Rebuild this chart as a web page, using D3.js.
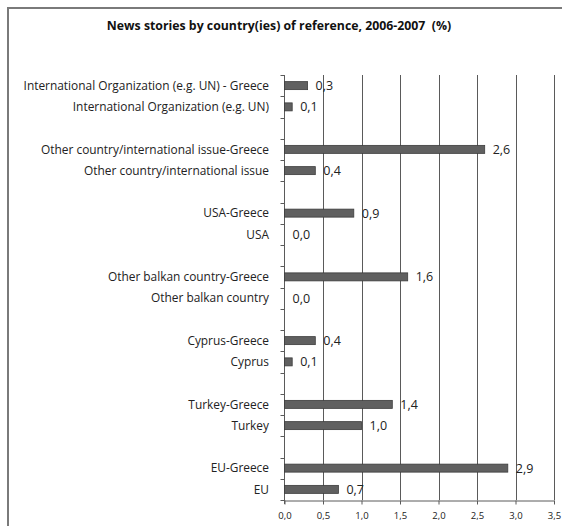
<!DOCTYPE html>
<html>
<head>
<meta charset="utf-8">
<script src="https://cdn.jsdelivr.net/npm/d3@7/dist/d3.min.js"></script>
<style>
  html, body { margin: 0; padding: 0; background: #fff; }
  svg { display: block; }
</style>
</head>
<body>
<svg id="chart" width="562" height="526"></svg>
<script>
// Categories from top to bottom; each pair is followed by an empty row
const categories = [
  "International Organization (e.g. UN) - Greece",
  "International Organization (e.g. UN)",
  "Other country/international issue-Greece",
  "Other country/international issue",
  "USA-Greece",
  "USA",
  "Other balkan country-Greece",
  "Other balkan country",
  "Cyprus-Greece",
  "Cyprus",
  "Turkey-Greece",
  "Turkey",
  "EU-Greece",
  "EU"
];
const values = [0.3, 0.1, 2.6, 0.4, 0.9, 0.0, 1.6, 0.0, 0.4, 0.1, 1.4, 1.0, 2.9, 0.7];
const xTicks = [0, 0.5, 1, 1.5, 2, 2.5, 3, 3.5];
const title = "News stories by country(ies) of reference, 2006-2007  (%)";

const locale = d3.formatLocale({ decimal: ",", thousands: ".", grouping: [3], currency: ["", "€"] });
const fmt = locale.format(".1f");

const svg = d3.select("#chart");

// Outer frame (continues past the right and bottom edges)
svg.append("rect")
  .attr("x", 8).attr("y", 8)
  .attr("width", 600).attr("height", 600)
  .attr("fill", "none")
  .attr("stroke", "#7a7a7a")
  .attr("stroke-width", 2);

svg.append("text")
  .attr("x", 279).attr("y", 30)
  .attr("text-anchor", "middle")
  .attr("font-family", "'Open Sans', sans-serif")
  .attr("font-weight", "bold")
  .attr("font-size", 12.3)
  .attr("fill", "#111")
  .attr("xml:space", "preserve")
  .style("white-space", "pre")
  .text(title);

const plot = { left: 284.5, right: 554, top: 75, bottom: 500 };

// Row slots: two categories, then one empty slot
const slotOf = i => i + Math.floor(i / 2);
const nSlots = slotOf(categories.length - 1) + 1;
const slots = d3.range(nSlots);

const x = d3.scaleLinear().domain([0, 3.5]).range([plot.left, plot.right]);
const y = d3.scaleBand().domain(slots).range([plot.top, plot.bottom]).paddingInner(0).paddingOuter(0);

// Vertical gridlines
svg.append("g").selectAll("line")
  .data(xTicks.filter(t => t > 0))
  .join("line")
  .attr("x1", d => Math.round(x(d)) + 0.5).attr("x2", d => Math.round(x(d)) + 0.5)
  .attr("y1", plot.top).attr("y2", plot.bottom)
  .attr("stroke", "#5a5a5a").attr("stroke-width", 1);

// Bottom axis
const xAxis = d3.axisBottom(x).tickValues(xTicks).tickFormat(fmt).tickSizeInner(4).tickSizeOuter(0).tickPadding(8);
const xg = svg.append("g").attr("transform", `translate(0,${plot.bottom + 0.5})`).call(xAxis);
xg.select(".domain").attr("stroke", "#5a5a5a");
xg.selectAll(".tick line").attr("stroke", "#5a5a5a");
xg.selectAll(".tick text")
  .attr("font-family", "'Open Sans', sans-serif")
  .attr("font-size", 9.5)
  .attr("fill", "#222");

// Left axis with ticks at slot boundaries
const boundaries = d3.range(nSlots + 1).map(k => plot.top + k * y.step());
const yAxisG = svg.append("g");
yAxisG.append("line")
  .attr("x1", plot.left).attr("x2", plot.left)
  .attr("y1", plot.top).attr("y2", plot.bottom + 4)
  .attr("stroke", "#5a5a5a");
yAxisG.selectAll("line.tk")
  .data(boundaries)
  .join("line")
  .attr("class", "tk")
  .attr("x1", plot.left - 4).attr("x2", plot.left)
  .attr("y1", d => Math.round(d) + 0.5).attr("y2", d => Math.round(d) + 0.5)
  .attr("stroke", "#5a5a5a");

// Category labels
svg.append("g").selectAll("text")
  .data(categories)
  .join("text")
  .attr("x", 269)
  .attr("y", (d, i) => y(slotOf(i)) + y.bandwidth() / 2)
  .attr("dy", "0.35em")
  .attr("text-anchor", "end")
  .attr("font-family", "'Open Sans', sans-serif")
  .attr("font-size", 11.9)
  .attr("fill", "#222")
  .text(d => d);

// Bars
const barH = 8;
svg.append("g").selectAll("rect")
  .data(values)
  .join("rect")
  .attr("x", x(0))
  .attr("y", (d, i) => y(slotOf(i)) + y.bandwidth() / 2 - barH / 2)
  .attr("width", d => x(d) - x(0))
  .attr("height", barH)
  .attr("fill", "#606060")
  .attr("stroke", "#3c3c3c")
  .attr("stroke-width", 0.8);

// Value labels
svg.append("g").selectAll("text")
  .data(values)
  .join("text")
  .attr("x", d => x(d) + 8)
  .attr("y", (d, i) => y(slotOf(i)) + y.bandwidth() / 2)
  .attr("dy", "0.35em")
  .attr("font-family", "'Open Sans', sans-serif")
  .attr("font-size", 12.5)
  .attr("fill", "#222")
  .text(d => fmt(d));
</script>
</body>
</html>
